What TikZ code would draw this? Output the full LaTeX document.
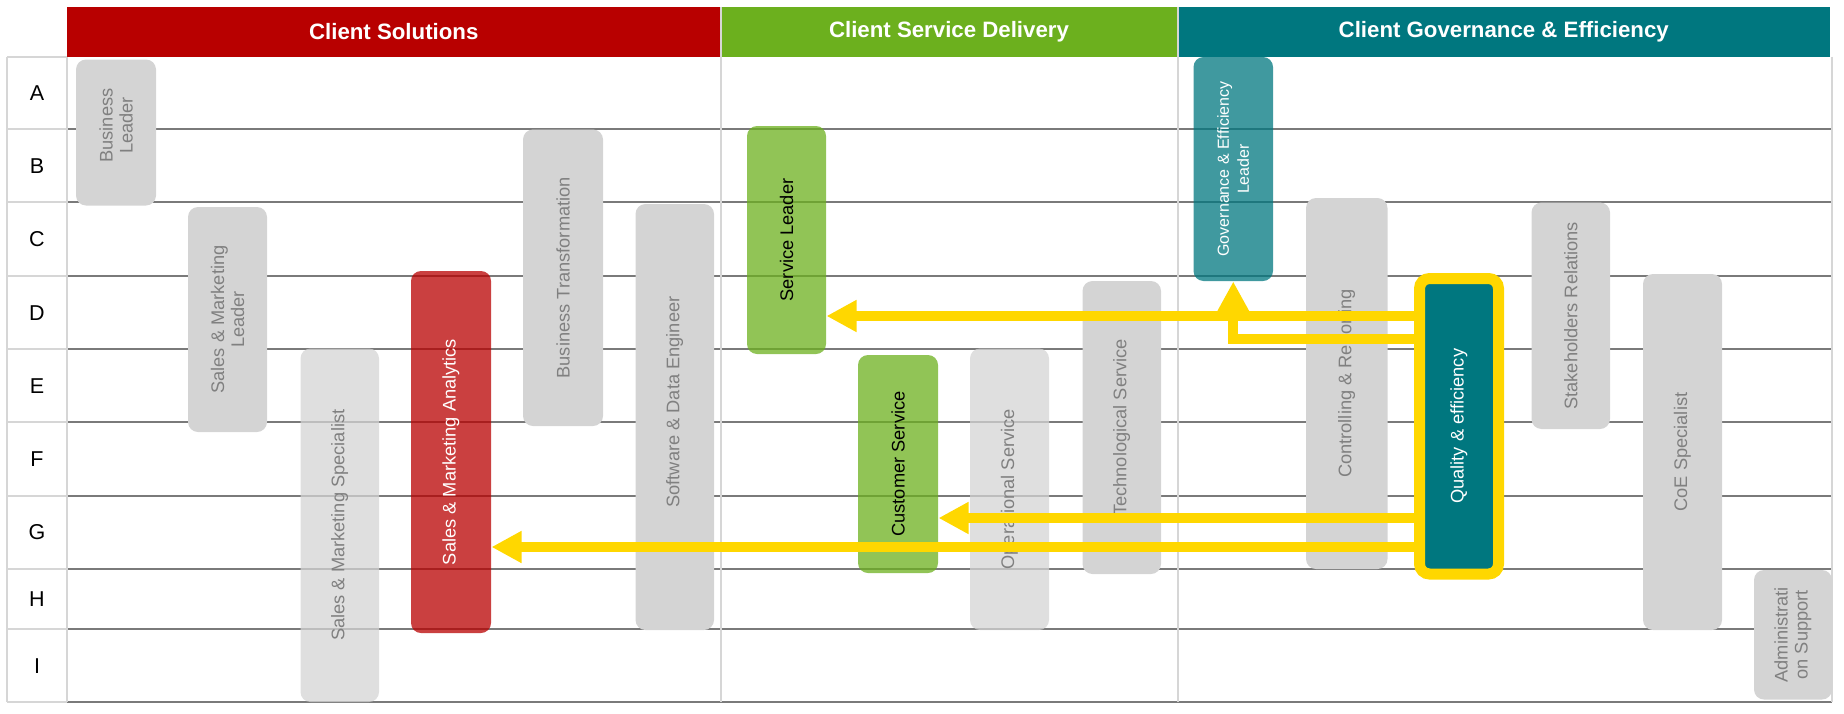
\documentclass[tikz,border=0pt]{standalone}
\usepackage{fontspec}
\setmainfont{Liberation Sans}
\usetikzlibrary{arrows.meta}
\definecolor{csred}{HTML}{B80000}
\definecolor{csgreen}{HTML}{6CB01E}
\definecolor{csteal}{HTML}{00777F}
\definecolor{boxgray}{HTML}{D4D4D4}
\definecolor{txtgray}{HTML}{808080}
\definecolor{gridgray}{HTML}{7A7A7A}
\definecolor{lightline}{HTML}{D6D6D6}
\definecolor{ayellow}{HTML}{FFD700}
\newcommand{\rolebox}[7]{\node[role,#6,minimum width={(#5-#3)*0.4pt},minimum height={(#4-#2)*0.4pt}] (#1) at ({(#2+#4)/2},{(#3+#5)/2}) {#7};}
\tikzset{
  role/.style={rotate=90, rounded corners=4pt, inner sep=0pt, align=center,
    font=\fontsize{7.3}{8}\selectfont, text=txtgray, fill=boxgray},
  plain/.style={},
  faded/.style={fill opacity=0.75, text opacity=1},
  redbox/.style={fill=csred, fill opacity=0.75, text opacity=1, text=white},
  greenbox/.style={fill=csgreen, fill opacity=0.75, text opacity=1, text=black},
  tealbox/.style={fill=csteal, fill opacity=0.75, text opacity=1, text=white,
    font=\fontsize{6.4}{8}\selectfont},
  qbox/.style={fill=csteal, draw=ayellow, line width=4.4pt, text=white},
  hdr/.style={inner sep=0pt, text=white, font=\fontsize{8.9}{10}\selectfont\bfseries,
    minimum height=20pt},
  letter/.style={font=\fontsize{8.6}{10}\selectfont, text=black},
  gridline/.style={draw=gridgray, line width=0.8pt},
  softline/.style={draw=lightline, line width=0.8pt},
  yarrow/.style={draw=ayellow, line width=4pt, line join=miter,
    -{Triangle[length=12pt,width=12pt]}}
}
\begin{document}
\begin{tikzpicture}[x=0.4pt,y=-0.4pt]
\useasboundingbox (0,0) rectangle (1844,713);
% headers
\node[hdr, fill=csred, minimum width={(720.5-67)*0.4pt}] (h1) at (393.75,31.7) {Client Solutions};
\node[hdr, fill=csgreen, minimum width={(1177.5-720.5)*0.4pt}] (h2) at (949,31.7) {Client Service Delivery};
\node[hdr, fill=csteal, minimum width={(1830-1177.5)*0.4pt}] (h3) at (1503.75,31.7) {Client Governance \& Efficiency};
% grid
\foreach \yy in {129.3,202.3,276,349.3,422,495.5,569,629,702.3}{
  \draw[gridline] (67,\yy) -- (1832,\yy);
  \draw[softline] (7,\yy) -- (67,\yy);
}
\draw[softline] (7,56.7) -- (67,56.7);
\draw[softline] (7,56.7) -- (7,702.3);
\draw[softline] (67,56.7) -- (67,702.3);
\draw[softline] (720.5,6.7) -- (720.5,702.3);
\draw[softline] (1177.5,6.7) -- (1177.5,702.3);
\draw[softline] (1832,56.7) -- (1832,702.3);
% row letters
\node[letter] (rA) at (37,93) {A};
\node[letter] (rB) at (37,165.8) {B};
\node[letter] (rC) at (37,239.2) {C};
\node[letter] (rD) at (37,312.7) {D};
\node[letter] (rE) at (37,385.7) {E};
\node[letter] (rF) at (37,458.8) {F};
\node[letter] (rG) at (37,532.3) {G};
\node[letter] (rH) at (37,599) {H};
\node[letter] (rI) at (37,665.7) {I};
% roles
\rolebox{bl}{76}{59.5}{156}{205.5}{plain}{\hspace*{5.6pt}Business\\\hspace*{5.6pt}Leader}
\rolebox{sml}{188}{207}{267}{432}{plain}{Sales \& Marketing\\Leader}
\rolebox{sms}{300.5}{348.5}{379}{702}{faded}{Sales \& Marketing Specialist}
\rolebox{sma}{411}{271}{491}{633}{redbox}{Sales \& Marketing Analytics}
\rolebox{bt}{523}{129.5}{603}{426}{plain}{Business Transformation}
\rolebox{sde}{635.5}{204}{714}{630}{plain}{\hspace*{12pt}Software \& Data Engineer}
\rolebox{sl}{747}{126}{826}{354}{greenbox}{Service Leader}
\rolebox{cs}{858}{355}{938}{573}{greenbox}{Customer Service}
\rolebox{os}{970}{348.5}{1049}{630}{faded}{Operational Service}
\rolebox{ts}{1082.5}{281}{1161}{574}{plain}{Technological Service}
\rolebox{gel}{1193.5}{57}{1273}{281}{tealbox}{Governance \& Efficiency\\Leader}
\rolebox{cr}{1306}{198}{1387.5}{569}{plain}{Controlling \& Reporting}
\rolebox{sr}{1531.5}{202.5}{1610}{429}{plain}{Stakeholders Relations}
\rolebox{coe}{1643}{274}{1722}{630}{plain}{CoE Specialist}
\rolebox{as}{1754}{570}{1832}{699.5}{plain}{Administrati\\on Support}
% arrows
\draw[yarrow] (1416,316) coordinate (a1) -- (sl.south |- a1);
\draw[yarrow] (1416,339) coordinate (a2) -| (gel.west);
\draw[yarrow] (1416,518) coordinate (a3) -- (cs.south |- a3);
\draw[yarrow] (1416,547) coordinate (a4) -- (sma.south |- a4);
% highlighted role
\rolebox{qe}{1419.5}{278.5}{1498.5}{574}{qbox}{Quality \& efficiency}
\end{tikzpicture}
\end{document}
